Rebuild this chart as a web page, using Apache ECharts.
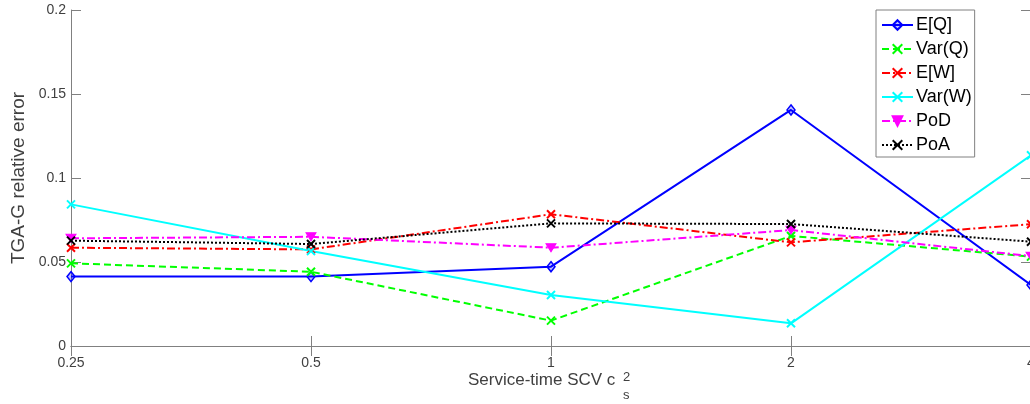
<!DOCTYPE html>
<html>
<head>
<meta charset="utf-8">
<script src="https://cdn.jsdelivr.net/npm/echarts@6/dist/echarts.min.js"></script>
<style>
  html, body { margin: 0; padding: 0; background: #fff; }
  #chart { width: 1030px; height: 404px; }
</style>
</head>
<body>
<div id="chart"></div>
<script>
// Service-time SCV values (x axis categories)
const categories = ['0.25', '0.5', '1', '2', '4'];

// TGA-G relative error per measure
const eQ   = [0.0413, 0.0413, 0.0472, 0.1405, 0.0363];
const varQ = [0.0492, 0.0442, 0.0151, 0.0655, 0.0532];
const eW   = [0.0585, 0.0575, 0.0784, 0.0617, 0.0725];
const varW = [0.0843, 0.0565, 0.0304, 0.0135, 0.1135];
const poD  = [0.0641, 0.0650, 0.0585, 0.0690, 0.0535];
const poA  = [0.0627, 0.0607, 0.0730, 0.0726, 0.0621];

const yTicks = { min: 0, max: 0.2, interval: 0.05 };

const FONT = '"Liberation Sans", Arial, Helvetica, sans-serif';
const AXIS_COLOR = '#808080';
const TEXT_COLOR = '#404040';
const CROSS = 'path://M0,0L10,10M0,10L10,0';

function lineSeries(name, data, color, dash, symbol, extra) {
  return Object.assign({
    name: name,
    type: 'line',
    data: data,
    symbol: symbol,
    symbolSize: 8,
    lineStyle: { color: color, width: 2, type: dash },
    itemStyle: { color: color, borderColor: color, borderWidth: 2 },
    emphasis: { disabled: true },
    animation: false
  }, extra || {});
}

const chart = echarts.init(document.getElementById('chart'), null, { renderer: 'canvas' });

chart.setOption({
  backgroundColor: '#fff',
  textStyle: { fontFamily: FONT },
  grid: { left: 71, top: 10, width: 960, height: 336, containLabel: false, outerBoundsMode: 'none' },
  legend: {
    orient: 'vertical',
    left: 876,
    top: 10,
    padding: [6, 3, 3, 5],
    itemWidth: 31,
    itemHeight: 12,
    itemGap: 6,
    backgroundColor: '#fff',
    borderColor: '#808080',
    borderWidth: 1,
    textStyle: { fontFamily: FONT, fontSize: 18, color: '#000', padding: [0, 0, 0, -2], lineHeight: 18 },
    data: ['E[Q]', 'Var(Q)', 'E[W]', 'Var(W)', 'PoD', 'PoA']
  },
  xAxis: [{
    type: 'category',
    data: categories,
    boundaryGap: false,
    position: 'bottom',
    axisLine: { lineStyle: { color: AXIS_COLOR, width: 1 } },
    axisTick: { inside: true, length: 10, lineStyle: { color: AXIS_COLOR } },
    axisLabel: { color: TEXT_COLOR, fontSize: 14, fontFamily: FONT, margin: 10, hideOverlap: false },
    splitLine: { show: false }
  }, {
    type: 'category',
    data: categories,
    boundaryGap: false,
    position: 'top',
    axisLine: { lineStyle: { color: AXIS_COLOR, width: 1 } },
    axisTick: { inside: true, length: 10, lineStyle: { color: AXIS_COLOR } },
    axisLabel: { show: false },
    splitLine: { show: false }
  }],
  yAxis: [{
    type: 'value',
    min: yTicks.min, max: yTicks.max, interval: yTicks.interval,
    position: 'left',
    axisLine: { show: true, lineStyle: { color: AXIS_COLOR, width: 1 } },
    axisTick: { show: true, inside: true, length: 10, lineStyle: { color: AXIS_COLOR } },
    axisLabel: { color: TEXT_COLOR, fontSize: 14, fontFamily: FONT, margin: 5 },
    splitLine: { show: false }
  }, {
    type: 'value',
    min: yTicks.min, max: yTicks.max, interval: yTicks.interval,
    position: 'right',
    axisLine: { show: true, lineStyle: { color: AXIS_COLOR, width: 1 } },
    axisTick: { show: true, inside: true, length: 10, lineStyle: { color: AXIS_COLOR } },
    axisLabel: { show: false },
    splitLine: { show: false }
  }],
  graphic: [{
    // y-axis title, rotated
    type: 'text',
    x: 19,
    y: 178,
    rotation: Math.PI / 2,
    style: {
      text: 'TGA-G relative error',
      fill: TEXT_COLOR,
      font: '19px ' + FONT,
      textAlign: 'center',
      textVerticalAlign: 'middle'
    }
  }, {
    // x-axis title with stacked sub/superscript
    type: 'group',
    left: 468,
    top: 371,
    children: [{
      type: 'text',
      x: 0, y: 0,
      style: { text: 'Service-time SCV c', fill: TEXT_COLOR, font: '17px ' + FONT, textVerticalAlign: 'top' }
    }, {
      type: 'text',
      x: 155, y: -1,
      style: { text: '2', fill: TEXT_COLOR, font: '13px ' + FONT, textVerticalAlign: 'top' }
    }, {
      type: 'text',
      x: 155, y: 17,
      style: { text: 's', fill: TEXT_COLOR, font: '13px ' + FONT, textVerticalAlign: 'top' }
    }]
  }],
  series: [
    lineSeries('E[Q]', eQ, '#0000ff', 'solid', 'diamond', {
      symbolSize: [8, 10],
      itemStyle: { color: 'rgba(0,0,255,0.25)', borderColor: '#0000ff', borderWidth: 1.5 }
    }),
    lineSeries('Var(Q)', varQ, '#00ff00', [7, 4], CROSS),
    lineSeries('E[W]', eW, '#ff0000', [8, 3, 2, 3], CROSS),
    lineSeries('Var(W)', varW, '#00ffff', 'solid', CROSS),
    lineSeries('PoD', poD, '#ff00ff', [8, 3, 2, 3], 'triangle', {
      symbolRotate: 180,
      symbolSize: [10, 8],
      itemStyle: { color: '#ff00ff', borderColor: '#ff00ff', borderWidth: 1 }
    }),
    lineSeries('PoA', poA, '#000000', [2, 2], CROSS)
  ]
});
</script>
</body>
</html>
